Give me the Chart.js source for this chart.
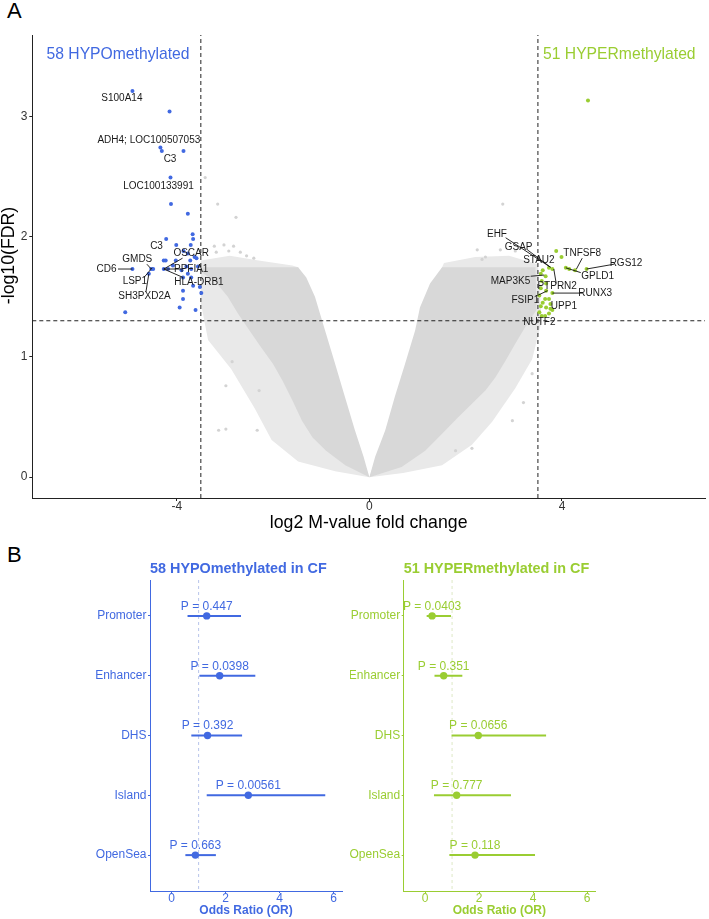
<!DOCTYPE html>
<html>
<head>
<meta charset="utf-8">
<script src="https://cdn.jsdelivr.net/npm/chart.js@4.4.1/dist/chart.umd.min.js"></script>
<style>
  html, body { margin: 0; padding: 0; background: #fff; }
  body { width: 709px; height: 919px; position: relative; overflow: hidden; font-family: "Liberation Sans", Arial, sans-serif; }
  canvas { position: absolute; }
  .tag { position: absolute; font-size: 22px; line-height: 1; color: #000; }
</style>
</head>
<body>
<div class="tag" style="left:7px;top:0px">A</div>
<div class="tag" style="left:7px;top:544px">B</div>
<canvas id="volcano" width="709" height="540" style="left:0;top:0"></canvas>
<canvas id="hypoChart" width="350" height="374" style="left:0;top:545px"></canvas>
<canvas id="hyperChart" width="359" height="374" style="left:350px;top:545px"></canvas>
<script>
// ---- panel A data (log2 M-value fold change, -log10 FDR) ----
const hypoPoints = [
  [-4.92,3.21],[-4.15,3.04],[-4.34,2.74],[-4.31,2.71],[-3.86,2.71],[-4.13,2.49],[-4.12,2.27],
  [-3.77,2.19],[-3.67,2.02],[-3.66,1.98],[-4.22,1.98],[-4.01,1.93],[-3.71,1.93],[-3.86,1.88],
  [-3.77,1.86],[-3.63,1.83],[-3.59,1.82],[-4.27,1.80],[-4.23,1.80],[-4.02,1.80],[-3.72,1.80],
  [-4.92,1.73],[-4.53,1.73],[-4.49,1.73],[-4.27,1.73],[-4.18,1.73],[-4.08,1.76],[-3.90,1.72],
  [-3.80,1.75],[-3.70,1.73],[-3.56,1.75],[-3.77,1.69],[-3.70,1.66],[-3.87,1.66],[-4.58,1.69],
  [-3.66,1.59],[-3.52,1.58],[-3.49,1.53],[-3.87,1.55],[-3.87,1.48],[-3.94,1.41],[-3.61,1.39],
  [-5.07,1.37]
];
const hyperPoints = [
  [4.54,3.13],[3.88,1.88],[3.99,1.83],[3.80,1.73],[3.73,1.74],[4.08,1.74],[4.15,1.73],
  [4.27,1.72],[4.51,1.73],[3.60,1.72],[3.56,1.69],[3.66,1.67],[3.58,1.63],[3.67,1.61],
  [3.56,1.57],[3.67,1.55],[3.80,1.53],[3.53,1.51],[3.65,1.48],[3.73,1.48],[3.60,1.45],
  [3.76,1.44],[3.56,1.42],[3.67,1.41],[3.80,1.39],[3.76,1.40],[3.53,1.37],[3.73,1.36],
  [3.58,1.34],[3.65,1.34]
];
// outline of the dense grey cloud of non-significant probes
const greyCoreLeft = [
  [-3.47,1.745],[-1.48,1.745],[-1.31,1.66],[-1.13,1.50],[-0.92,1.22],[-0.71,0.94],[-0.51,0.67],
  [-0.30,0.39],[-0.12,0.17],[0,0],[-0.50,0.10],[-0.90,0.22],[-1.18,0.33],[-1.40,0.47],
  [-1.60,0.64],[-1.80,0.80],[-2.00,0.94],[-2.25,1.08],[-2.49,1.22],[-2.73,1.36],[-2.94,1.50],
  [-3.21,1.63],[-3.47,1.70]
];
const greyFringeLeft = [
  [-3.50,1.80],[-2.90,1.84],[-2.30,1.80],[-1.60,1.76],[-1.48,1.745],[0,0],[-0.71,0.05],
  [-1.48,0.13],[-2.03,0.31],[-2.38,0.57],[-2.87,0.90],[-3.35,1.14],[-3.50,1.45]
];
const greyCoreRight = [
  [1.51,1.745],[3.45,1.745],[3.47,1.39],[3.24,1.25],[3.03,1.11],[2.83,0.97],[2.62,0.83],
  [2.41,0.72],[2.13,0.61],[1.85,0.50],[1.51,0.36],[1.16,0.22],[0.67,0.085],[0,0],[0.12,0.17],
  [0.33,0.39],[0.53,0.67],[0.74,0.94],[0.95,1.22],[1.05,1.41],[1.26,1.61]
];
const greyFringeRight = [
  [1.55,1.78],[2.20,1.83],[2.90,1.84],[3.50,1.77],[3.58,1.30],[3.38,0.98],[3.03,0.74],
  [2.55,0.46],[2.13,0.27],[1.51,0.10],[0.70,0.035],[0,0],[1.51,1.745]
];
const greyOutliers = [
  [-3.41,2.49],[-3.15,2.27],[-2.77,2.16],[2.77,2.27],[-3.22,1.92],[-3.02,1.93],[-2.82,1.92],
  [-3.18,1.87],[-2.92,1.88],[-2.68,1.87],[-2.55,1.84],[-2.40,1.82],[2.24,1.89],[2.41,1.83],
  [2.72,1.89],[3.03,1.88],[2.34,1.81],[-2.98,0.76],[-3.13,0.39],[-2.98,0.40],[-2.33,0.39],
  [-2.29,0.72],[-2.85,0.96],[2.97,0.47],[3.38,0.86],[2.13,0.24],[1.79,0.22],[3.20,0.62]
];
const fcCut = 3.5, fdrCut = 1.3;
const volcanoTicksX = [-4, 0, 4];
const volcanoTicksY = [0, 1, 2, 3];

// gene labels: name, x, y (data units) and leader segments
const geneLabels = [
  ['S100A14',-5.14,3.15],['ADH4; LOC100507053',-4.58,2.80],['C3',-4.14,2.64],
  ['LOC100133991',-4.38,2.42],['C3',-4.42,1.92],['OSCAR',-3.70,1.86],['GMDS',-4.82,1.81],
  ['CD6',-5.46,1.73],['PPFIA1',-3.70,1.73],['LSP1',-4.87,1.63],['HLA-DRB1',-3.54,1.62],
  ['SH3PXD2A',-4.67,1.50],
  ['EHF',2.65,2.02],['GSAP',3.10,1.91],['STAU2',3.52,1.80],['TNFSF8',4.42,1.86],
  ['RGS12',5.33,1.78],['GPLD1',4.74,1.67],['MAP3K5',2.93,1.63],['PTPRN2',3.90,1.59],
  ['RUNX3',4.69,1.53],['FSIP1',3.24,1.47],['UPP1',4.04,1.42],['NUTF2',3.53,1.29]
];
const leaders = [
  [-5.22,1.73,-4.92,1.73],[-4.62,1.77,-4.53,1.73],[-4.68,1.66,-4.51,1.74],[-4.64,1.54,-4.58,1.69],
  [-4.27,1.73,-3.88,1.82],[-4.27,1.73,-3.90,1.73],[-4.27,1.73,-3.87,1.66],
  [2.83,1.99,3.76,1.745],[3.28,1.89,3.76,1.745],[3.83,1.73,3.88,1.61],[4.42,1.82,4.30,1.73],
  [5.08,1.77,4.51,1.73],[4.39,1.70,4.08,1.74],[3.35,1.67,3.63,1.68],[4.42,1.53,3.80,1.53],
  [3.49,1.51,3.70,1.55]
];
const groupTitles = [['58 HYPOmethylated',-5.22,3.51,'#4169E1'],['51 HYPERmethylated',5.19,3.51,'#9ACD32']];

// ---- panel B data (odds ratios with 95% CI) ----
const regions = ['Promoter','Enhancer','DHS','Island','OpenSea'];
const hypoOR   = [1.30, 1.78, 1.33, 2.84, 0.88];
const hypoLow  = [0.59, 1.03, 0.73, 1.30, 0.51];
const hypoHigh = [2.57, 3.10, 2.61, 5.69, 1.64];
const hypoP    = ['0.447','0.0398','0.392','0.00561','0.663'];
const hyperOR   = [0.26, 0.69, 1.97, 1.17, 1.85];
const hyperLow  = [0.06, 0.35, 0.98, 0.33, 0.90];
const hyperHigh = [0.96, 1.38, 4.48, 3.18, 4.07];
const hyperP    = ['0.0403','0.351','0.0656','0.777','0.118'];
const orTicks = [0, 2, 4, 6];

const FONT = '"Liberation Sans", Arial, sans-serif';
Chart.defaults.font.family = FONT;
Chart.defaults.animation = false;

const xy = arr => arr.map(p => ({ x: p[0], y: p[1] }));
const dashed = (pts) => ({
  type: 'line', data: xy(pts), borderColor: '#222', borderWidth: 1, borderDash: [4, 3],
  pointRadius: 0, fill: false, order: 5
});

// grey cloud: filled outlines mapped through the chart scales
const greyCloud = {
  id: 'greyCloud',
  beforeDatasetsDraw(chart) {
    const { ctx, chartArea, scales: { x, y } } = chart;
    const shape = (pts, color) => {
      ctx.beginPath();
      pts.forEach(([px, py], i) => {
        const X = x.getPixelForValue(px), Y = y.getPixelForValue(py);
        i ? ctx.lineTo(X, Y) : ctx.moveTo(X, Y);
      });
      ctx.closePath();
      ctx.fillStyle = color;
      ctx.fill();
    };
    ctx.save();
    ctx.beginPath();
    ctx.rect(chartArea.left, chartArea.top, chartArea.width, chartArea.height);
    ctx.clip();
    shape(greyFringeLeft, '#e9e9e9');
    shape(greyFringeRight, '#e9e9e9');
    shape(greyCoreLeft, '#d8d8d8');
    shape(greyCoreRight, '#d8d8d8');
    ctx.restore();
  }
};

const volcanoText = {
  id: 'volcanoText',
  afterDatasetsDraw(chart) {
    const { ctx, scales: { x, y } } = chart;
    ctx.save();
    ctx.font = '10px ' + FONT;
    ctx.fillStyle = '#1a1a1a';
    ctx.textAlign = 'center';
    ctx.textBaseline = 'middle';
    geneLabels.forEach(([t, gx, gy]) => ctx.fillText(t, x.getPixelForValue(gx), y.getPixelForValue(gy)));
    ctx.strokeStyle = '#111';
    ctx.lineWidth = 0.9;
    leaders.forEach(([x1, y1, x2, y2]) => {
      ctx.beginPath();
      ctx.moveTo(x.getPixelForValue(x1), y.getPixelForValue(y1));
      ctx.lineTo(x.getPixelForValue(x2), y.getPixelForValue(y2));
      ctx.stroke();
    });
    ctx.font = '15.7px ' + FONT;
    groupTitles.forEach(([t, gx, gy, c]) => {
      ctx.fillStyle = c;
      ctx.fillText(t, x.getPixelForValue(gx), y.getPixelForValue(gy));
    });
    // y axis title
    ctx.translate(9, 255.5);
    ctx.rotate(-Math.PI / 2);
    ctx.font = '17.7px ' + FONT;
    ctx.fillStyle = '#000';
    ctx.fillText('-log10(FDR)', 0, 0);
    ctx.restore();
  }
};

new Chart(document.getElementById('volcano'), {
  type: 'scatter',
  data: {
    datasets: [
      { type: 'scatter', data: xy(greyOutliers), backgroundColor: '#d3d3d3', pointRadius: 1.6, borderWidth: 0, order: 10 },
      dashed([[-fcCut, -0.173], [-fcCut, 3.675]]),
      dashed([[fcCut, -0.173], [fcCut, 3.675]]),
      dashed([[-7.0, fdrCut], [6.97, fdrCut]]),
      { type: 'scatter', data: xy(hypoPoints), backgroundColor: '#4169E1', pointRadius: 2, borderWidth: 0, order: 2 },
      { type: 'scatter', data: xy(hyperPoints), backgroundColor: '#9ACD32', pointRadius: 2, borderWidth: 0, order: 2 }
    ]
  },
  options: {
    responsive: false,
    layout: { padding: { top: 35, right: 2, left: 0, bottom: 0 } },
    plugins: { legend: { display: false }, tooltip: { enabled: false } },
    scales: {
      x: {
        type: 'linear', min: -7.0, max: 6.97,
        afterBuildTicks: s => { s.ticks = volcanoTicksX.map(v => ({ value: v })); },
        afterFit: s => { s.height = 42; },
        grid: { drawOnChartArea: false, drawTicks: true, tickLength: 3, color: '#222' },
        border: { display: true, color: '#222', width: 1 },
        ticks: { color: '#333', padding: 0, font: { size: 12, lineHeight: 1 } },
        title: { display: true, text: 'log2 M-value fold change', color: '#000',
                 font: { size: 17.7, lineHeight: 1 }, padding: { top: 0, bottom: 7.8 } }
      },
      y: {
        type: 'linear', min: -0.173, max: 3.675,
        afterBuildTicks: s => { s.ticks = volcanoTicksY.map(v => ({ value: v })); },
        afterFit: s => { s.width = 32.3; },
        grid: { drawOnChartArea: false, drawTicks: true, tickLength: 3, color: '#222' },
        border: { display: true, color: '#222', width: 1 },
        ticks: { color: '#333', padding: 2, font: { size: 12, lineHeight: 1 } }
      }
    }
  },
  plugins: [greyCloud, volcanoText]
});

// ---- panel B: forest plots ----
function forest(id, title, color, dashColor, OR, low, high, P, yWidth, padRight, xMin, xMax) {
  const ciSets = regions.map((r, i) => ({
    type: 'line', data: [{ x: low[i], y: i + 1 }, { x: high[i], y: i + 1 }],
    borderColor: color, borderWidth: 2, pointRadius: 0, fill: false, order: 3
  }));
  const labels = {
    id: 'forestText',
    afterDatasetsDraw(chart) {
      const { ctx, chartArea, scales: { x, y } } = chart;
      ctx.save();
      ctx.fillStyle = color;
      ctx.textAlign = 'center';
      ctx.textBaseline = 'middle';
      ctx.font = '12px ' + FONT;
      OR.forEach((v, i) => ctx.fillText('P = ' + P[i], x.getPixelForValue(v), y.getPixelForValue(i + 1) - 9.5));
      ctx.textAlign = 'left';
      ctx.font = 'bold 14.4px ' + FONT;
      ctx.fillText(title, chartArea.left, 24.5);
      ctx.restore();
    }
  };
  return new Chart(document.getElementById(id), {
    type: 'scatter',
    data: {
      datasets: [
        { type: 'line', data: [{ x: 1, y: 0.4 }, { x: 1, y: 5.6 }], borderColor: dashColor,
          borderWidth: 1, borderDash: [3, 3], pointRadius: 0, fill: false, order: 6 },
        ...ciSets,
        { type: 'scatter', data: OR.map((v, i) => ({ x: v, y: i + 1 })), backgroundColor: color,
          pointRadius: 3.7, borderWidth: 0, order: 1 }
      ]
    },
    options: {
      responsive: false,
      layout: { padding: { top: 35, right: padRight, left: 0, bottom: 0 } },
      plugins: { legend: { display: false }, tooltip: { enabled: false } },
      scales: {
        x: {
          type: 'linear', min: xMin, max: xMax,
          afterBuildTicks: s => { s.ticks = orTicks.map(v => ({ value: v })); },
          afterFit: s => { s.height = 28; },
          grid: { drawOnChartArea: false, drawTicks: true, tickLength: 2, color: color },
          border: { display: true, color: color, width: 1 },
          ticks: { color: color, padding: 0, font: { size: 12, lineHeight: 1 } },
          title: { display: true, text: 'Odds Ratio (OR)', color: color,
                   font: { size: 12, weight: 'bold', lineHeight: 1.2 }, padding: { top: 0, bottom: 1 } }
        },
        y: {
          type: 'linear', min: 0.4, max: 5.6, reverse: true,
          afterBuildTicks: s => { s.ticks = regions.map((r, i) => ({ value: i + 1 })); },
          afterFit: s => { s.width = yWidth; },
          grid: { drawOnChartArea: false, drawTicks: true, tickLength: 2, color: color },
          border: { display: true, color: color, width: 1 },
          ticks: { color: color, padding: 1.5, font: { size: 12 }, callback: v => regions[v - 1] }
        }
      }
    },
    plugins: [labels]
  });
}

forest('hypoChart', '58 HYPOmethylated in CF', '#4169E1', '#b8c4ea',
       hypoOR, hypoLow, hypoHigh, hypoP, 150, 8, -0.8, 6.31);
forest('hyperChart', '51 HYPERmethylated in CF', '#9ACD32', '#dde9c6',
       hyperOR, hyperLow, hyperHigh, hyperP, 53.7, 114, -0.79, 6.29);
</script>
</body>
</html>
